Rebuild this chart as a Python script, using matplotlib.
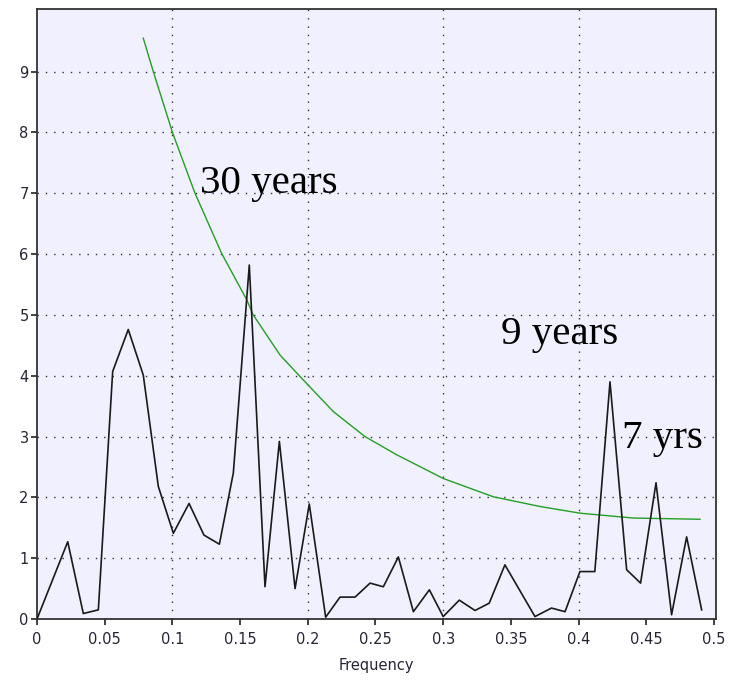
import matplotlib
matplotlib.use("Agg")
import matplotlib.pyplot as plt

# Periodogram values (frequency, power)
freq = [0.0, 0.0227, 0.0342, 0.0453, 0.0559, 0.0674, 0.0785, 0.0896, 0.1007,
        0.1123, 0.1233, 0.1347, 0.145, 0.1568, 0.1684, 0.179, 0.1906, 0.2011,
        0.2132, 0.2238, 0.2349, 0.246, 0.2558, 0.2669, 0.278, 0.2898, 0.300,
        0.3119, 0.3235, 0.334, 0.3456, 0.3678, 0.380, 0.390, 0.401, 0.412,
        0.4232, 0.4355, 0.4458, 0.4572, 0.4687, 0.4798, 0.4909]
power = [0.0, 1.27, 0.09, 0.15, 4.07, 4.76, 4.01, 2.18, 1.41,
         1.90, 1.38, 1.23, 2.40, 5.82, 0.53, 2.92, 0.50, 1.89,
         0.03, 0.36, 0.36, 0.59, 0.53, 1.02, 0.12, 0.48, 0.04,
         0.31, 0.14, 0.26, 0.89, 0.04, 0.18, 0.12, 0.78, 0.78,
         3.90, 0.81, 0.59, 2.24, 0.07, 1.35, 0.15]

# Significance threshold curve
thr_freq = [0.0785, 0.0859, 0.1002, 0.1167, 0.1364, 0.1549, 0.1597, 0.172,
            0.1795, 0.1967, 0.2189, 0.2422, 0.2657, 0.3001, 0.337, 0.3715,
            0.401, 0.4404, 0.4897]
thr_power = [9.55, 9.0, 7.99, 7.0, 6.01, 5.25, 5.0, 4.59,
             4.34, 3.93, 3.41, 3.0, 2.70, 2.31, 2.01, 1.85,
             1.74, 1.66, 1.64]

x_ticks = [0, 0.05, 0.1, 0.15, 0.2, 0.25, 0.3, 0.35, 0.4, 0.45, 0.5]
x_tick_labels = ["0", "0.05", "0.1", "0.15", "0.2", "0.25", "0.3", "0.35", "0.4", "0.45", "0.5"]
y_ticks = [0, 1, 2, 3, 4, 5, 6, 7, 8, 9]
x_grid = [0.1, 0.2, 0.3, 0.4]
y_grid = [1, 2, 3, 4, 5, 6, 7, 8, 9]

annotations = [("30 years", 0.1204, 7.0), ("9 years", 0.3427, 4.52), ("7 yrs", 0.4318, 2.81)]

W, H = 730, 685
fig = plt.figure(figsize=(W / 100, H / 100), dpi=100)
fig.patch.set_facecolor("white")
ax = fig.add_axes([37 / W, (H - 619) / H, (716 - 37) / W, (619 - 9) / H])
ax.set_facecolor("#F0F0FE")

ax.set_xlim(0, 0.5015)
ax.set_ylim(0, 10.03)

grid_kw = dict(color="#333333", linewidth=1.0, linestyle=(0, (1, 5)), zorder=1)
for gx in x_grid:
    ax.axvline(gx, **grid_kw)
for gy in y_grid:
    ax.axhline(gy, **grid_kw)

ax.plot(thr_freq, thr_power, color="#22A022", linewidth=1.0, zorder=3)
ax.plot(freq, power, color="#1a1a1a", linewidth=1.2, zorder=4)

for txt, tx, ty in annotations:
    ax.text(tx, ty, txt, family="Liberation Serif", fontsize=29.5,
            ha="left", va="baseline", color="black", zorder=5)

ax.set_xticks(x_ticks)
ax.set_xticklabels(x_tick_labels)
ax.set_yticks(y_ticks)
ax.tick_params(axis="both", direction="out", length=4, width=1.2,
               color="#222222", labelsize=10.5, labelcolor="#252535")
ax.tick_params(axis="x", pad=5)
ax.tick_params(axis="y", pad=2)

for sp in ax.spines.values():
    sp.set_color("#333333")
    sp.set_linewidth(1.3)

ax.set_xlabel("Frequency", fontsize=10.5, color="#252535", labelpad=8)

fig.savefig("out.png", dpi=100)
